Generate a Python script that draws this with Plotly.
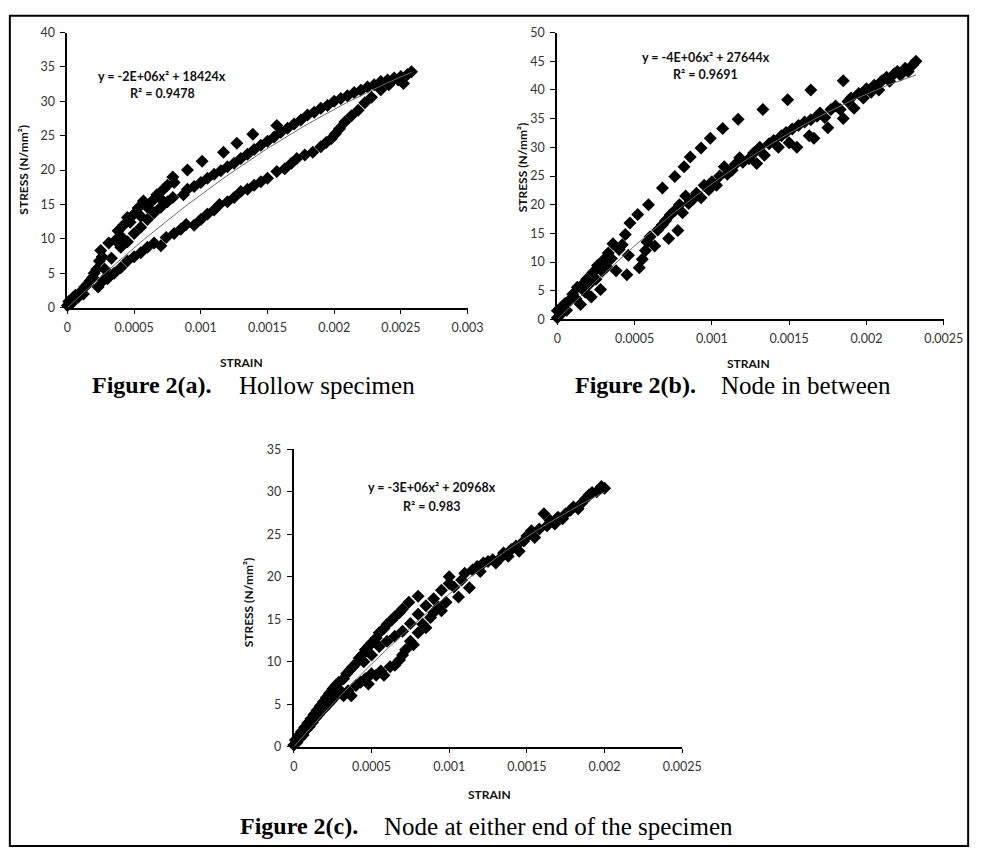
import plotly.graph_objects as go

W, H = 994, 856

# ---------------- data: Figure 2(a) Hollow specimen ----------------
strain_a = [
    0.00000, 0.00001, 0.00003, 0.00004, 0.00006, 0.00008, 0.00010, 0.00012, 0.00013, 0.00015,
    0.00017, 0.00019, 0.00020, 0.00022, 0.00023, 0.00024, 0.00025, 0.00026, 0.00027, 0.00028,
    0.00030, 0.00031, 0.00033,
    0.00036, 0.00038, 0.00040, 0.00042, 0.00045, 0.00047, 0.00050, 0.00053, 0.00055, 0.00057,
    0.00060, 0.00063, 0.00067, 0.00070, 0.00072, 0.00075, 0.00079, 0.00080,
    0.00090, 0.00101, 0.00117, 0.00127, 0.00139, 0.00157,
    0.00040, 0.00045, 0.00050, 0.00055, 0.00060, 0.00065, 0.00070, 0.00075, 0.00079, 0.00087,
    0.00090, 0.00095, 0.00100, 0.00105, 0.00110, 0.00115, 0.00120, 0.00125, 0.00130, 0.00135,
    0.00140, 0.00145, 0.00150, 0.00155, 0.00160, 0.00165, 0.00170, 0.00175, 0.00180, 0.00185,
    0.00190, 0.00195, 0.00200, 0.00205, 0.00210, 0.00215, 0.00220, 0.00225, 0.00230, 0.00235,
    0.00240, 0.00245, 0.00250, 0.00255, 0.00258,
    0.00030, 0.00035, 0.00040, 0.00045, 0.00050, 0.00055, 0.00060, 0.00065, 0.00070, 0.00074,
    0.00080, 0.00085, 0.00089, 0.00095, 0.00100, 0.00105, 0.00110, 0.00114, 0.00120, 0.00125,
    0.00130, 0.00135, 0.00140, 0.00145, 0.00150, 0.00157, 0.00163, 0.00168, 0.00172, 0.00178,
    0.00184, 0.00190, 0.00194, 0.00198, 0.00201, 0.00204, 0.00208, 0.00213, 0.00218, 0.00223,
    0.00228, 0.00235, 0.00241, 0.00248, 0.00252,
]
stress_a = [
    0.3, 0.9, 0.6, 1.4, 1.8, 1.5, 2.3, 2.0, 3.0, 3.4,
    3.9, 4.4, 5.0, 5.6, 3.0, 6.8, 8.3, 7.4, 4.0, 5.6,
    4.6, 9.4, 7.2,
    9.8, 11.2, 10.4, 12.0, 13.1, 12.4, 13.6, 14.5, 13.3, 15.5,
    14.6, 15.4, 16.4, 15.8, 17.2, 17.8, 19.0, 18.2,
    20.0, 21.3, 22.6, 23.9, 25.2, 26.5,
    8.8, 9.6, 10.8, 11.7, 12.8, 13.8, 14.6, 15.4, 16.0, 16.4,
    17.2, 17.6, 18.2, 18.8, 19.4, 19.9, 20.5, 21.0, 21.7, 22.3,
    23.0, 23.6, 24.2, 24.8, 25.5, 26.1, 26.7, 27.3, 28.0, 28.4,
    29.0, 29.4, 30.0, 30.4, 30.8, 31.3, 31.6, 32.1, 32.4, 32.9,
    33.1, 33.4, 33.6, 33.9, 34.3,
    4.2, 5.0, 5.8, 6.8, 7.4, 8.0, 8.8, 9.4, 9.0, 10.2,
    10.8, 11.4, 12.1, 12.0, 12.8, 13.6, 14.2, 15.0, 15.4, 16.0,
    16.9, 17.2, 17.8, 18.3, 18.8, 19.8, 20.2, 21.0, 21.7, 22.2,
    22.6, 23.4, 24.0, 24.6, 25.3, 26.0, 27.0, 27.9, 28.7, 29.8,
    30.6, 31.7, 32.4, 33.1, 32.6,
]

# ---------------- data: Figure 2(b) Node in between ----------------
strain_b = [
    0.00000, 0.00000, 0.00002, 0.00003, 0.00005, 0.00006, 0.00008, 0.00010, 0.00012, 0.00013,
    0.00015, 0.00016, 0.00018, 0.00019, 0.00021, 0.00022, 0.00023, 0.00025, 0.00026, 0.00028,
    0.00029, 0.00030, 0.00032, 0.00033, 0.00035, 0.00036, 0.00038, 0.00040, 0.00042, 0.00044,
    0.00045, 0.00046, 0.00047,
    0.00052, 0.00059, 0.00068, 0.00076, 0.00082, 0.00086, 0.00093, 0.00099, 0.00107, 0.00117,
    0.00133, 0.00149, 0.00164, 0.00185,
    0.00053, 0.00055, 0.00057, 0.00058, 0.00060, 0.00063, 0.00065, 0.00068, 0.00070, 0.00072,
    0.00073, 0.00076, 0.00078, 0.00079, 0.00081, 0.00083, 0.00085, 0.00088, 0.00090, 0.00093,
    0.00095, 0.00098, 0.00100, 0.00103, 0.00105, 0.00108, 0.00110, 0.00113, 0.00115, 0.00118,
    0.00120, 0.00124, 0.00127, 0.00129, 0.00131, 0.00134, 0.00137, 0.00140, 0.00143, 0.00145,
    0.00148, 0.00150, 0.00152, 0.00155, 0.00156, 0.00160, 0.00163, 0.00164, 0.00166, 0.00168,
    0.00170, 0.00173, 0.00175, 0.00177, 0.00180, 0.00183, 0.00185, 0.00188, 0.00190, 0.00192,
    0.00195, 0.00198, 0.00200, 0.00203, 0.00205, 0.00208, 0.00210, 0.00213, 0.00215, 0.00218,
    0.00220, 0.00222, 0.00225, 0.00227, 0.00230, 0.00232,
]
stress_b = [
    0.3, 1.5, 0.8, 2.2, 2.8, 1.6, 3.4, 4.4, 3.6, 5.6,
    2.6, 6.0, 4.8, 7.0, 6.2, 3.9, 8.2, 7.0, 9.4, 5.2,
    8.4, 10.4, 9.2, 11.6, 10.6, 13.2, 8.5, 12.2, 13.0, 14.8,
    7.8, 11.2, 16.8,
    18.3, 20.0, 22.9, 24.9, 26.6, 28.3, 29.9, 31.6, 33.3, 34.9,
    36.6, 38.3, 40.0, 41.6,
    9.0, 10.5, 12.0, 13.5, 14.4, 12.8, 15.6, 16.5, 17.2, 14.1,
    18.2, 19.0, 15.5, 20.0, 18.6, 21.5, 20.2, 21.0, 22.0, 21.2,
    23.4, 22.6, 24.0, 23.4, 25.0, 26.6, 25.3, 26.0, 27.0, 28.2,
    27.4, 28.0, 29.0, 27.2, 30.0, 28.6, 30.6, 31.2, 30.0, 32.0,
    32.6, 30.8, 33.2, 30.0, 33.8, 34.4, 32.0, 34.8, 31.6, 35.4,
    36.0, 35.2, 33.4, 36.6, 37.2, 36.6, 35.0, 38.0, 38.6, 36.8,
    39.4, 38.6, 40.2, 39.6, 40.8, 40.0, 41.6, 42.2, 41.5, 42.8,
    43.2, 42.6, 43.8, 43.2, 44.4, 45.0,
]

# ---------------- data: Figure 2(c) Node at either end ----------------
strain_c = [
    0.00000, 0.00001, 0.00002, 0.00003, 0.00004, 0.00005, 0.00006, 0.00007, 0.00008, 0.00009,
    0.00010, 0.00011, 0.00012, 0.00013, 0.00014, 0.00015, 0.00016, 0.00017, 0.00018, 0.00019,
    0.00020, 0.00021, 0.00022, 0.00023, 0.00024, 0.00025, 0.00026, 0.00027, 0.00028, 0.00029,
    0.00030,
    0.00032, 0.00034, 0.00036, 0.00038, 0.00040, 0.00042, 0.00044, 0.00046, 0.00048, 0.00050,
    0.00053, 0.00055, 0.00058, 0.00060, 0.00063, 0.00065, 0.00068, 0.00070, 0.00074, 0.00080,
    0.00032, 0.00035, 0.00037, 0.00040, 0.00043, 0.00046, 0.00048, 0.00050, 0.00053, 0.00056,
    0.00058, 0.00062, 0.00065, 0.00068, 0.00070, 0.00072, 0.00075, 0.00077, 0.00080, 0.00083,
    0.00085, 0.00088, 0.00090, 0.00093, 0.00095, 0.00098,
    0.00045, 0.00050, 0.00055, 0.00060, 0.00065, 0.00070, 0.00075, 0.00080, 0.00085, 0.00090,
    0.00095, 0.00100,
    0.00100, 0.00103, 0.00106, 0.00108, 0.00110, 0.00113, 0.00115, 0.00118, 0.00120, 0.00122,
    0.00125, 0.00128, 0.00130, 0.00133, 0.00135, 0.00138, 0.00140, 0.00143, 0.00145, 0.00148,
    0.00150, 0.00153, 0.00155, 0.00158, 0.00161, 0.00163, 0.00165, 0.00168, 0.00170, 0.00173,
    0.00175, 0.00178, 0.00180, 0.00183, 0.00185, 0.00188, 0.00190, 0.00192, 0.00195, 0.00198,
    0.00200,
]
stress_c = [
    0.2, 0.8, 0.5, 1.3, 1.0, 1.8, 1.4, 2.3, 2.0, 2.8,
    2.4, 3.3, 2.9, 3.8, 3.4, 4.3, 3.8, 4.8, 4.3, 5.3,
    4.6, 5.8, 5.0, 6.3, 5.4, 6.8, 5.8, 7.2, 6.2, 7.6,
    6.6,
    8.0, 8.6, 9.0, 9.4, 9.8, 10.4, 10.8, 11.4, 11.8, 12.2,
    12.8, 13.4, 13.9, 14.4, 14.9, 15.3, 15.8, 16.2, 17.0, 17.7,
    6.0, 6.6, 6.0, 7.2, 7.6, 8.0, 7.4, 8.6, 8.4, 8.9,
    8.4, 9.4, 9.6, 10.2, 10.8, 11.4, 12.4, 12.0, 13.4, 14.4,
    14.0, 15.2, 15.8, 16.4, 16.0, 17.0,
    10.0, 10.8, 11.8, 12.4, 13.0, 13.6, 14.5, 15.6, 16.6, 17.4,
    18.4, 19.2,
    20.0, 18.8, 17.6, 19.6, 20.4, 18.7, 20.8, 21.2, 20.6, 21.6,
    21.8, 22.0, 21.6, 22.2, 22.8, 22.4, 23.2, 23.6, 23.0, 24.2,
    24.8, 25.4, 24.6, 25.6, 27.4, 26.0, 26.6, 26.2, 27.0, 26.8,
    27.4, 27.8, 28.2, 28.0, 28.6, 29.2, 29.6, 29.9, 30.0, 30.6,
    30.4,
]

# trendline coefficients as printed on the charts (y = a*x^2 + b*x)
fit_a = (-2e6, 18424)
fit_b = (-4e6, 27644)
fit_c = (-3e6, 20968)

eq_a = ["y = -2E+06x² + 18424x", "R² = 0.9478"]
eq_b = ["y = -4E+06x² + 27644x", "R² = 0.9691"]
eq_c = ["y = -3E+06x² + 20968x", "R² = 0.983"]

xticks_a = [0, 0.0005, 0.001, 0.0015, 0.002, 0.0025, 0.003]
xtick_text_a = ["0", "0.0005", "0.001", "0.0015", "0.002", "0.0025", "0.003"]
xticks_bc = [0, 0.0005, 0.001, 0.0015, 0.002, 0.0025]
xtick_text_bc = ["0", "0.0005", "0.001", "0.0015", "0.002", "0.0025"]

captions = [
    ("Figure 2(a).", "Hollow specimen"),
    ("Figure 2(b).", "Node in between"),
    ("Figure 2(c).", "Node at either end of the specimen"),
]

# ---------------- figure ----------------
def px(x):
    return x / W


def py(y):
    return 1 - y / H


fig = go.Figure()

panels = [
    (strain_a, stress_a, fit_a, "x", "y"),
    (strain_b, stress_b, fit_b, "x2", "y2"),
    (strain_c, stress_c, fit_c, "x3", "y3"),
]
for xs, ys, (ca, cb), xa, ya in panels:
    xmax = max(xs)
    n = 60
    fx = [xmax * i / n for i in range(n + 1)]
    fy = [ca * v * v + cb * v for v in fx]
    fig.add_trace(go.Scatter(
        x=xs, y=ys, mode="markers", xaxis=xa, yaxis=ya, cliponaxis=False,
        marker=dict(symbol="diamond", size=10, color="black", line=dict(width=0)),
        showlegend=False, hoverinfo="skip"))
    fig.add_trace(go.Scatter(
        x=fx, y=fy, mode="lines", xaxis=xa, yaxis=ya,
        line=dict(color="#6a6a6a", width=1), showlegend=False, hoverinfo="skip"))

tickfont = dict(family="Lato, Open Sans, sans-serif", size=12.5, color="#333")
common_x = dict(showline=True, linecolor="black", linewidth=2, ticks="outside",
                ticklen=4, tickwidth=1, tickcolor="black", showgrid=False,
                zeroline=False, tickfont=tickfont, ticklabelstandoff=3)
common_y = dict(showline=True, linecolor="black", linewidth=2, ticks="outside",
                ticklen=5, tickwidth=1, tickcolor="black", showgrid=False,
                zeroline=False, tickfont=tickfont, dtick=5, ticklabelstandoff=3)

fig.update_layout(
    width=W, height=H, margin=dict(l=0, r=0, t=0, b=0),
    paper_bgcolor="white", plot_bgcolor="white",
    xaxis=dict(common_x, domain=[px(65), px(475)], range=[0, 0.003],
               tickvals=xticks_a, ticktext=xtick_text_a, anchor="y"),
    yaxis=dict(common_y, domain=[py(305), py(25)], range=[0, 40], anchor="x"),
    xaxis2=dict(common_x, domain=[px(567), px(963)], range=[0, 0.0025],
                tickvals=xticks_bc, ticktext=xtick_text_bc, anchor="y2"),
    yaxis2=dict(common_y, domain=[py(317), py(25)], range=[0, 50], anchor="x2"),
    xaxis3=dict(common_x, domain=[px(297), px(695)], range=[0, 0.0025],
                tickvals=xticks_bc, ticktext=xtick_text_bc, anchor="y3"),
    yaxis3=dict(common_y, domain=[py(752), py(449)], range=[0, 35], anchor="x3"),
)

ann = []
labfont = dict(family="Lato, Open Sans, sans-serif", size=12, color="#111")
eqfont = dict(family="Lato, Open Sans, sans-serif", size=12.5, color="#111")

# axis titles
for (xx, yy) in [(20, 165), (531, 162), (250, 605)]:
    ann.append(dict(x=px(xx), y=py(yy), xref="paper", yref="paper", text="<b>STRESS (N/mm²)</b>",
                    textangle=-90, showarrow=False, font=labfont,
                    xanchor="center", yanchor="middle"))
for (xx, yy) in [(243, 361), (763, 362), (497, 801)]:
    ann.append(dict(x=px(xx), y=py(yy), xref="paper", yref="paper", text="<b>STRAIN</b>",
                    showarrow=False, font=labfont, xanchor="center", yanchor="middle"))

# equations
for eq, (xx, y1, y2) in [(eq_a, (162, 70, 87)), (eq_b, (719, 50, 68)), (eq_c, (439, 488, 507))]:
    ann.append(dict(x=px(xx), y=py(y1), xref="paper", yref="paper", text="<b>" + eq[0] + "</b>",
                    showarrow=False, font=eqfont, xanchor="center", yanchor="middle"))
    ann.append(dict(x=px(xx), y=py(y2), xref="paper", yref="paper", text="<b>" + eq[1] + "</b>",
                    showarrow=False, font=eqfont, xanchor="center", yanchor="middle"))

# captions: bold label and description placed separately (tab-like gap)
boldfont = dict(family="Liberation Serif, Times New Roman, serif", size=24, color="black")
regfont = dict(family="Liberation Serif, Times New Roman, serif", size=25, color="black")
for (bold, rest), (x1, x2, yy) in zip(captions, [(88, 239, 384), (583, 733, 384), (240, 387, 833)]):
    ann.append(dict(x=px(x1), y=py(yy), xref="paper", yref="paper", text="<b>" + bold + "</b>",
                    showarrow=False, font=boldfont, xanchor="left", yanchor="middle"))
    ann.append(dict(x=px(x2), y=py(yy), xref="paper", yref="paper", text=rest,
                    showarrow=False, font=regfont, xanchor="left", yanchor="middle"))

fig.update_layout(annotations=ann)

# outer frame of the scanned figure
fig.add_shape(type="rect", xref="paper", yref="paper",
              x0=px(6), x1=px(988), y0=py(853), y1=py(8),
              line=dict(color="black", width=2), fillcolor="rgba(0,0,0,0)")

fig.write_html("out.html")
